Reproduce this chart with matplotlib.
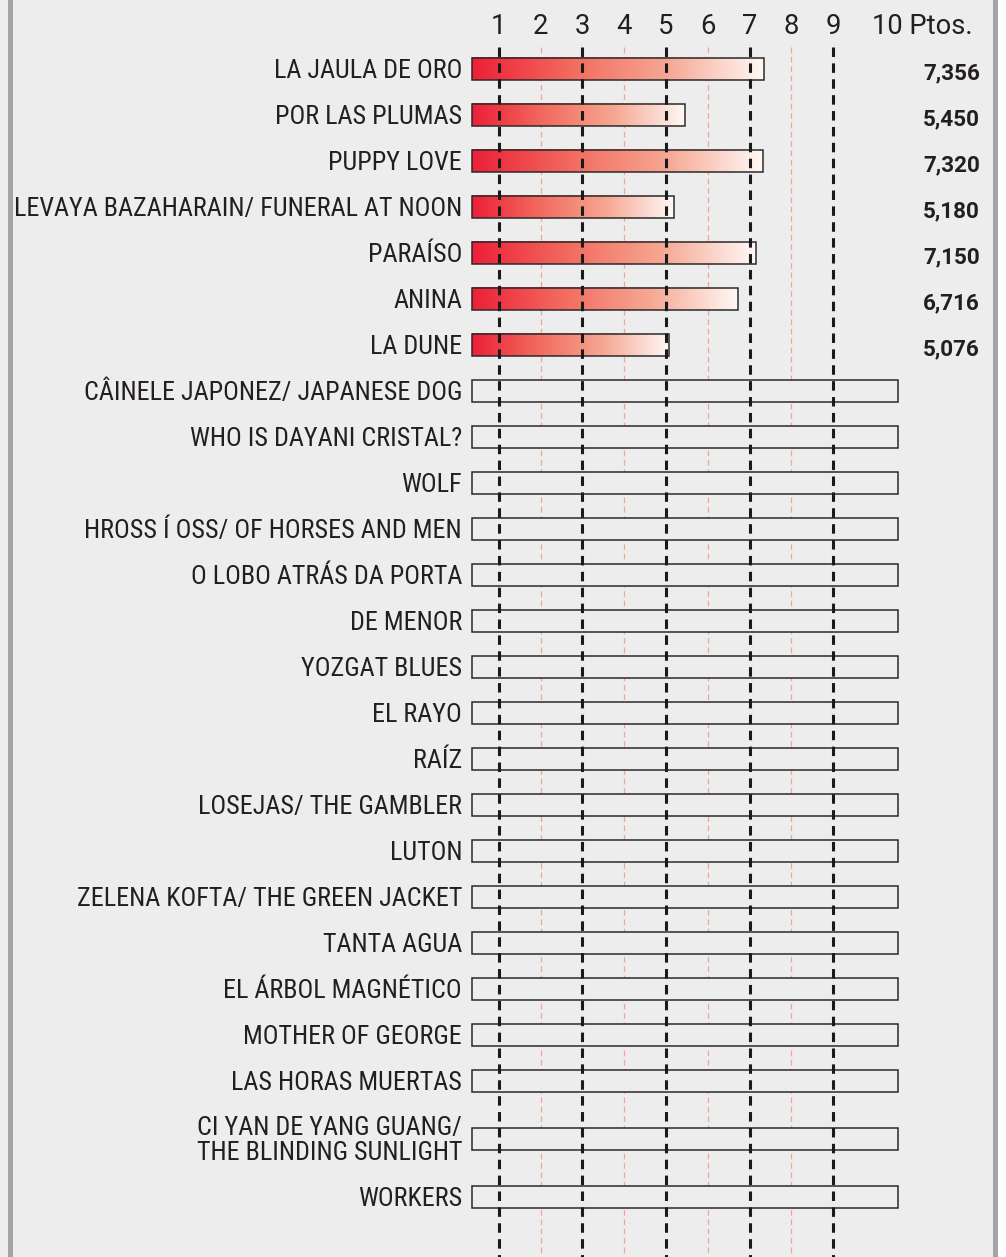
import matplotlib
matplotlib.use("Agg")
import matplotlib.pyplot as plt
import numpy as np
from matplotlib.colors import LinearSegmentedColormap
from matplotlib.patches import Rectangle

films = [
    "LA JAULA DE ORO",
    "POR LAS PLUMAS",
    "PUPPY LOVE",
    "LEVAYA BAZAHARAIN/ FUNERAL AT NOON",
    "PARAÍSO",
    "ANINA",
    "LA DUNE",
    "CÂINELE JAPONEZ/ JAPANESE DOG",
    "WHO IS DAYANI CRISTAL?",
    "WOLF",
    "HROSS Í OSS/ OF HORSES AND MEN",
    "O LOBO ATRÁS DA PORTA",
    "DE MENOR",
    "YOZGAT BLUES",
    "EL RAYO",
    "RAÍZ",
    "LOSEJAS/ THE GAMBLER",
    "LUTON",
    "ZELENA KOFTA/ THE GREEN JACKET",
    "TANTA AGUA",
    "EL ÁRBOL MAGNÉTICO",
    "MOTHER OF GEORGE",
    "LAS HORAS MUERTAS",
    "CI YAN DE YANG GUANG/\nTHE BLINDING SUNLIGHT",
    "WORKERS",
]
scores = [7.356, 5.450, 7.320, 5.180, 7.150, 6.716, 5.076]
tick_values = [1, 2, 3, 4, 5, 6, 7, 8, 9]
last_tick = "10"
unit_label = "Ptos."
full_scale = 10.55
bar_start = 0.35

LABEL_FONT = ["Roboto Condensed", "DejaVu Sans"]
NUM_FONT = ["Roboto", "DejaVu Sans"]
TXT = "#231F20"

W, H = 1006, 1257
BG = "#EDEDED"
fig = plt.figure(figsize=(W / 100, H / 100), dpi=100)
fig.patch.set_facecolor(BG)
ax = fig.add_axes([0, 0, 1, 1])
ax.set_facecolor(BG)
px_x0, px_unit = 457, 41.8
ax.set_xlim(-px_x0 / px_unit, (W - px_x0) / px_unit)
row_px, y0_px = 46, 69
ybot = (H - y0_px) / row_px
ytop = -y0_px / row_px
ax.set_ylim(ybot, ytop)
ax.axis("off")


def py(p):
    """pixel offset -> row units"""
    return p / row_px


# row positions
ypos = []
y = 0.0
for i, f in enumerate(films):
    if i > 0:
        y += 1.0
        if "\n" in f or "\n" in films[i - 1]:
            y += 0.26
    ypos.append(y)

line_top = -0.478
for t in tick_values:
    if t % 2 == 1:
        ax.plot([t, t], [line_top, ybot + 1], color="#1a1a1a", lw=2.2,
                linestyle=(0, (3.1, 2.1)), zorder=4, dash_capstyle="butt")
    else:
        ax.plot([t, t], [line_top, ybot + 1], color="#F2A596", lw=0.9,
                linestyle=(0, (4.5, 3.0)), zorder=1, dash_capstyle="butt")

cmap = LinearSegmentedColormap.from_list(
    "grad", ["#ED1F38", "#F26A5E", "#F6A793", "#FFF9F6"])
grad = np.linspace(0, 1, 256).reshape(1, -1)
bh = 0.48

for i, f in enumerate(films):
    yc = ypos[i]
    if i < len(scores):
        v = scores[i]
        ax.imshow(grad, cmap=cmap, aspect="auto", interpolation="bilinear",
                  extent=[bar_start, v, yc + bh / 2, yc - bh / 2], zorder=2)
        ax.add_patch(Rectangle((bar_start, yc - bh / 2), v - bar_start, bh,
                               facecolor="none", edgecolor="#2a2a2a", lw=1.1,
                               zorder=3))
        ax.text(12.51, yc + py(10.5), f"{v:.3f}".replace(".", ","), ha="right",
                va="baseline", fontsize=16.2, fontweight="bold",
                family=NUM_FONT, color=TXT)
    else:
        ax.add_patch(Rectangle((bar_start, yc - bh / 2), full_scale - bar_start,
                               bh, facecolor=BG, edgecolor="#2a2a2a", lw=1.1,
                               zorder=3))
    off = py(21) if "\n" in f else py(9)
    ax.text(0.12, yc + off, f, ha="right", va="baseline", fontsize=18.8,
            family=LABEL_FONT, color=TXT, linespacing=1.05,
            multialignment="right")

ty = py(34 - y0_px)
for t in tick_values:
    ax.text(t, ty, str(t), ha="center", va="baseline", fontsize=19.7,
            family=NUM_FONT, color=TXT)
ax.text(9.93, ty, f"{last_tick} {unit_label}", ha="left", va="baseline",
        fontsize=19.7, family=NUM_FONT, color=TXT)

# side borders
fig.add_artist(Rectangle((8 / W, 0), 5 / W, 1, transform=fig.transFigure,
                         facecolor="#A4A4A8", edgecolor="none", zorder=10))
fig.add_artist(Rectangle((993 / W, 0), 5 / W, 1, transform=fig.transFigure,
                         facecolor="#A4A4A8", edgecolor="none", zorder=10))
fig.add_artist(Rectangle((998 / W, 0), 8 / W, 1, transform=fig.transFigure,
                         facecolor="#FFFFFF", edgecolor="none", zorder=10))

fig.savefig("out.png", dpi=100, facecolor=BG)
